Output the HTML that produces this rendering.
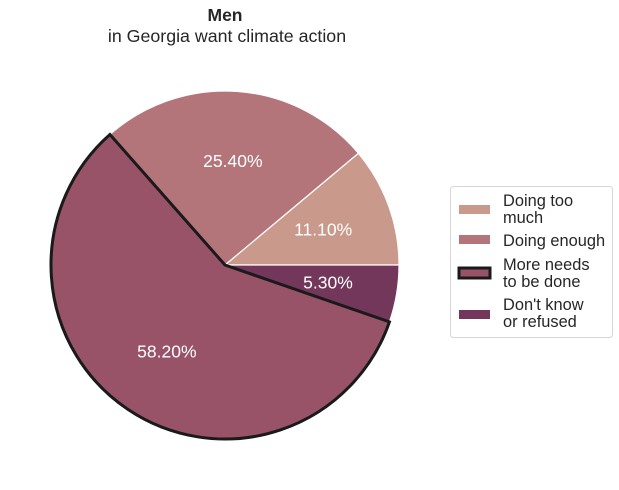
<!DOCTYPE html>
<html><head><meta charset="utf-8"><style>
body{margin:0;background:#fff;}
svg{display:block;font-family:"Liberation Sans","DejaVu Sans",sans-serif;}
</style></head><body>
<svg id="chart" width="619" height="490">
<text x="225" y="21" text-anchor="middle" font-size="17.5" font-weight="bold" fill="#262626">Men</text>
<text x="227" y="42" text-anchor="middle" font-size="17.8" fill="#262626">in Georgia want climate action</text>
<g id="slices"></g>
<g id="labels"></g>
<g>
<rect x="450.5" y="186.5" width="162" height="151" rx="3" fill="#fff" stroke="#d6d6d6"/>
<g id="legend"></g>
</g>
</svg>
<script>
const categories=["Doing too much","Doing enough","More needs to be done","Don't know or refused"];
const values=[11.1,25.4,58.2,5.3];
const labels=["11.10%","25.40%","58.20%","5.30%"];
const legendLines=[["Doing too","much"],["Doing enough"],["More needs","to be done"],["Don't know","or refused"]];
const colors=["#c99a8c","#b37579","#985369","#72375b"];
const NS="http://www.w3.org/2000/svg";
const cx=225,cy=265,R=174;
const total=values.reduce((a,b)=>a+b,0);
function pt(a,r){return [cx+r*Math.cos(a),cy-r*Math.sin(a)];}
let start=0;
const sg=document.getElementById('slices'),lg=document.getElementById('labels');
let hi=null;
values.forEach((v,i)=>{
  const sweep=v/total*2*Math.PI,end=start+sweep;
  const [x1,y1]=pt(start,R),[x2,y2]=pt(end,R);
  const p=document.createElementNS(NS,'path');
  p.setAttribute('d',`M${cx},${cy} L${x1},${y1} A${R},${R} 0 ${sweep>Math.PI?1:0} 0 ${x2},${y2} Z`);
  p.setAttribute('fill',colors[i]);
  p.setAttribute('stroke',i===2?'#1a1a1a':'#fff');
  p.setAttribute('stroke-width',i===2?'3':'1.2');
  p.setAttribute('stroke-linejoin','miter');
  
  
  if(i===2)hi=p;
  sg.appendChild(p);
  const [lx,ly]=pt(start+sweep/2,R*0.6);
  const t=document.createElementNS(NS,'text');
  t.setAttribute('x',lx);t.setAttribute('y',ly+6);
  t.setAttribute('text-anchor','middle');t.setAttribute('font-size','17.5');t.setAttribute('fill','#fff');
  t.textContent=labels[i];
  
  
  lg.appendChild(t);
  start=end;
});
if(hi)sg.appendChild(hi);
const legG=document.getElementById('legend');
const patchY=[205,235,268,310];
const textY=[[206,223],[246],[270,287],[310,327]];
categories.forEach((c,i)=>{
  const r=document.createElementNS(NS,'rect');
  r.setAttribute('x',459);r.setAttribute('y',patchY[i]);r.setAttribute('width',31);r.setAttribute('height',i===2?10:9);
  r.setAttribute('fill',colors[i]);
  if(i===2){r.setAttribute('stroke','#1a1a1a');r.setAttribute('stroke-width','3');}
  
  
  legG.appendChild(r);
  legendLines[i].forEach((ln,j)=>{
    const t=document.createElementNS(NS,'text');
    t.setAttribute('x',503);t.setAttribute('y',textY[i][j]);
    t.setAttribute('font-size','16.4');t.setAttribute('fill','#262626');
    t.textContent=ln;
    
    
    legG.appendChild(t);
  });
});
</script>
</body></html>
